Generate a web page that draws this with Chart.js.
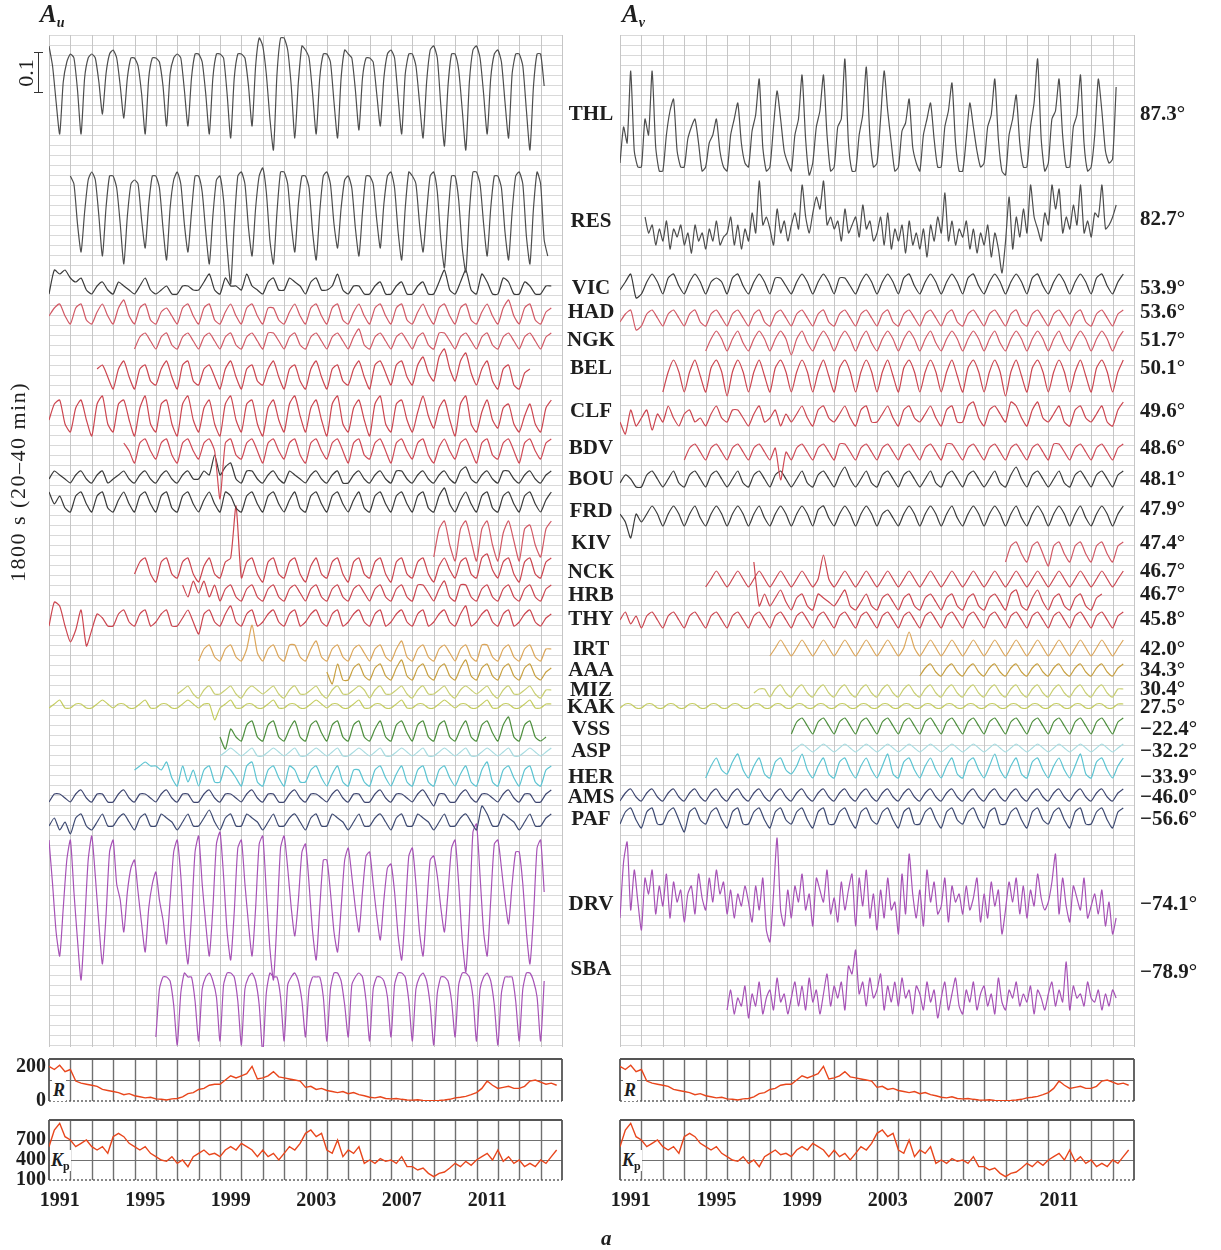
<!DOCTYPE html>
<html>
<head>
<meta charset="utf-8">
<title>A_u / A_v</title>
<script src="https://cdn.jsdelivr.net/npm/chart.js@4.4.1/dist/chart.umd.min.js"></script>
<style>
  body { margin: 0; background: #fff; }
  #page { position: relative; width: 1221px; height: 1250px; overflow: hidden; font-family: "Liberation Serif", serif; color: #1e1e1e; }
  canvas { position: absolute; }
  .lbl { position: absolute; white-space: nowrap; }
  .bar { position: absolute; background: #333; }
</style>
</head>
<body>
<div id="page">
  <canvas id="mainU" width="620" height="1050" style="left:0px;top:0px"></canvas>
  <canvas id="mainV" width="621" height="1050" style="left:600px;top:0px"></canvas>
  <canvas id="rU" width="575" height="56" style="left:0px;top:1050px"></canvas>
  <canvas id="kpU" width="575" height="100" style="left:0px;top:1110px"></canvas>
  <canvas id="rV" width="560" height="56" style="left:600px;top:1050px"></canvas>
  <canvas id="kpV" width="560" height="100" style="left:600px;top:1110px"></canvas>

  <div class="lbl" style="left:40px;top:0px;font:italic bold 25px 'Liberation Serif'">A<span style="font-size:14px;position:relative;top:5px">u</span></div>
  <div class="lbl" style="left:622px;top:0px;font:italic bold 25px 'Liberation Serif'">A<span style="font-size:14px;position:relative;top:5px">v</span></div>
  <div class="lbl" style="left:-112px;top:469px;width:260px;text-align:center;font-size:22px;letter-spacing:1.5px;transform:rotate(-90deg)">1800 s (20–40 min)</div>
  <div class="lbl" style="left:6px;top:60px;width:40px;text-align:center;font-size:22px;transform:rotate(-90deg)">0.1</div>
  <div class="bar" style="left:38px;top:52px;width:1px;height:41px"></div>
  <div class="bar" style="left:34px;top:52px;width:9px;height:1px"></div>
  <div class="bar" style="left:34px;top:92px;width:9px;height:1px"></div>
  <div class="lbl" style="left:52px;top:1080px;font:italic bold 18px 'Liberation Serif';background:#fff;padding:0 1px">R</div>
  <div class="lbl" style="left:623px;top:1080px;font:italic bold 18px 'Liberation Serif';background:#fff;padding:0 1px">R</div>
  <div class="lbl" style="left:50px;top:1150px;font:italic bold 18px 'Liberation Serif';background:#fff;padding:0 1px">K<span style="font-size:12px;font-style:normal;position:relative;top:4px">p</span></div>
  <div class="lbl" style="left:621px;top:1150px;font:italic bold 18px 'Liberation Serif';background:#fff;padding:0 1px">K<span style="font-size:12px;font-style:normal;position:relative;top:4px">p</span></div>
  <div class="lbl" style="left:601px;top:1226px;font:italic bold 21px 'Liberation Serif'">a</div>
</div>

<script>
// ---- categories / tick labels ----
const stationNames = ["THL","RES","VIC","HAD","NGK","BEL","CLF","BDV","BOU","FRD","KIV","NCK","HRB","THY","IRT","AAA","MIZ","KAK","VSS","ASP","HER","AMS","PAF","DRV","SBA"];
const latitudes = ["87.3°","82.7°","53.9°","53.6°","51.7°","50.1°","49.6°","48.6°","48.1°","47.9°","47.4°","46.7°","46.7°","45.8°","42.0°","34.3°","30.4°","27.5°","−22.4°","−32.2°","−33.9°","−46.0°","−56.6°","−74.1°","−78.9°"];
const yearTicks = [1991, 1995, 1999, 2003, 2007, 2011];
const rTicks = [0, 200];
const kpTicks = [100, 400, 700];

// first sample (year) and samples per year of each station series
const startU = [1991,1992,1991,1991,1995,1993.25,1991,1994.5,1991,1991,2009,1995,1997.25,1991,1998,2004,1997,1991,1999,1999,1995,1991,1991,1991,1996];
const startV = [1991,1992.17,1991,1991,1995,1993,1991,1994,1991,1991,2009,1995,1997.25,1991,1998,2005,1997.25,1991,1999,1999,1995,1991,1991,1991,1996];
const perYear = [6,6,4,4,4,4,4,4,4,4,4,4,4,4,4,4,4,4,4,4,4,4,4,6,6];

// ---- A_u series (units of 0.01) ----
const THL_u = [26,21,12,4,17,22, 24,23,15,4,18,23, 24,23,17,9,19,24, 25,23,16,8,18,23, 23,21,14,4,18,23, 23,22,16,6,19,23,
  24,23,15,6,18,24, 24,22,14,4,18,24, 24,23,14,3,18,24, 24,23,16,6,21,28, 26,19,8,0,19,28, 28,25,16,3,17,26,
  25,23,14,4,18,24, 24,22,12,3,18,25, 24,23,15,5,18,23, 23,22,14,6,18,24, 25,23,13,4,19,24, 24,21,12,3,17,25,
  26,23,11,1,16,24, 24,20,10,0,17,25, 26,23,14,4,18,24, 25,22,12,3,19,24, 24,21,10,0,16,24, 24,16];
const RES_u = [24,22,12,5,15,23, 25,23,14,4,16,24, 24,21,12,2,14,22, 23,22,13,6,17,24, 24,21,11,3,16,23, 25,22,12,5,15,24,
  24,20,10,2,14,23, 24,18,6,-3,12,24, 25,22,11,4,16,24, 26,20,8,2,15,25, 25,22,12,5,17,24, 24,21,10,3,15,24,
  25,22,12,6,16,23, 24,21,11,4,15,24, 24,22,13,6,17,24, 25,21,10,3,16,25, 24,22,12,5,15,24, 25,20,8,1,14,24,
  24,18,6,0,15,25, 25,22,12,4,16,24, 24,21,10,3,15,24, 25,22,9,2,16,25, 22,8,4];
const VIC_u = [1,7,6,7, 5,4,5,2, 1,3,4,2, 1,4,3,2, 1,3,5,2, 1,2,3,1, 1,3,3,2, 2,4,6,2, 1,5,3,3, 2,6,3,2, 1,4,5,2, 2,5,4,3,
  1,4,5,2, 2,3,6,2, 1,3,3,1, 1,3,4,1, 1,3,4,1, 1,3,4,1, 1,4,7,2, 1,4,7,2, 1,6,4,1, 1,5,4,1, 1,4,3,1, 1,3,3];
const HAD_u = [3,5,6,3, 1,5,6,2, 1,4,6,3, 1,5,7,3, 1,5,6,2, 1,4,5,3, 1,5,6,3, 1,5,6,2, 1,4,6,3, 1,5,6,3, 1,5,5,2, 1,4,6,3,
  1,5,6,3, 1,5,6,2, 1,4,6,3, 1,5,6,3, 1,5,6,2, 1,4,6,3, 1,5,6,3, 1,5,6,2, 1,4,6,3, 1,5,7,3, 1,5,6,2, 1,4,5];
const NGK_u = [1,4,5,3, 1,4,5,2, 1,4,5,3, 1,4,5,3, 1,4,5,2, 1,4,5,3, 1,5,5,3, 1,4,5,2, 1,4,5,3, 1,4,5,3,
  1,4,6,2, 1,4,5,3, 1,4,5,3, 1,4,5,2, 1,5,5,3, 1,4,5,3, 1,4,5,2, 1,4,5,3, 1,4,5,3, 1,4,5];
const BEL_u = [6,7,4, 1,6,8,4, 1,6,7,3, 2,6,8,4, 1,7,8,3, 2,6,7,4, 1,6,8,4, 1,6,7,3, 2,6,8,4, 1,6,7,3, 1,6,8,4,
  1,6,7,3, 2,6,8,4, 1,7,8,5, 2,7,8,4, 2,7,9,5, 3,9,11,6, 3,8,10,5, 2,6,8,3, 1,6,7,2, 1,5,6];
const CLF_u = [5,9,10,4, 2,8,10,5, 1,9,11,4, 2,9,10,5, 1,8,11,4, 2,9,10,4, 1,9,11,5, 2,8,10,4, 1,9,11,5, 2,9,10,4,
  1,8,10,5, 2,9,11,6, 2,8,10,5, 1,9,11,4, 2,8,10,5, 1,9,11,4, 2,9,10,5, 2,7,11,6, 3,8,10,5, 1,9,11,4,
  2,7,10,5, 3,8,9,4, 2,6,9,4, 2,8,10];
const BDV_u = [5,3, 0,5,6,3, 1,5,6,2, 0,5,6,3, 1,5,6,3, -9,5,6,2, 1,5,6,3, 0,5,6,3, 1,5,6,2, 0,5,6,3, 1,5,6,3,
  0,5,6,2, 1,5,6,3, 0,5,6,3, 1,5,6,2, 0,4,6,3, 1,5,6,3, 0,5,6,2, 1,5,6,3, 0,5,6,3, 1,5,6];
const BOU_u = [2,4,3,2, 1,3,4,2, 1,3,4,1, 2,3,4,2, 1,3,4,2, 1,3,4,2, 1,3,4,2, 2,4,3,8, 3,5,6,2, 1,4,4,2, 1,3,4,2, 1,4,3,2,
  1,3,4,2, 1,3,4,1, 1,3,4,2, 1,3,4,2, 1,4,4,2, 1,3,4,2, 1,3,4,2, 1,4,5,2, 1,3,4,2, 1,4,4,2, 1,3,4,2, 1,3,4];
const FRD_u = [6,3,5,2, 1,5,6,3, 1,5,6,2, 1,4,6,3, 1,5,6,3, 1,5,6,2, 1,5,6,3, 1,4,6,3, 1,6,5,2, 1,5,6,3, 1,5,6,3, 1,4,6,2,
  1,5,6,3, 1,5,6,3, 1,4,6,2, 1,5,6,3, 1,5,6,3, 1,5,6,2, 1,5,7,3, 1,4,6,3, 1,5,6,2, 1,5,6,3, 1,5,6,3, 1,4,6];
const KIV_u = [1,8,10,4, 0,8,10,5, 0,8,10,4, 0,7,10,5, 0,8,9,4, 1,8,10];
const NCK_u = [2,5,6,2, 0,5,6,2, 1,5,6,2, 0,4,6,2, 1,5,6,19, 1,5,6,2, 0,5,6,2, 1,5,6,2, 0,4,6,2, 1,5,6,2,
  0,5,6,2, 1,5,6,2, 0,5,6,2, 1,5,6,2, 0,4,6,3, 1,5,6,2, 1,6,7,3, 1,5,6,2, 0,5,6,2, 1,5,6];
const HRB_u = [5,2,6, 3,6,2,5, 1,4,5,2, 1,4,5,2, 1,4,5,2, 1,4,5,3, 1,4,5,2, 1,4,5,2, 1,4,5,3, 1,4,5,2, 1,4,5,2,
  1,5,5,3, 1,4,6,2, 1,5,5,2, 1,4,5,2, 1,4,5,2, 1,4,5,2, 1,4,5];
const THY_u = [4,10,9,4, 0,3,8,-1, 3,7,6,4, 4,7,8,5, 4,7,8,4, 5,7,8,4, 4,6,8,5, 2,7,8,5, 4,7,9,5, 4,7,8,4, 5,7,8,5, 4,7,8,4,
  5,7,8,5, 4,7,8,4, 5,7,8,5, 4,7,8,4, 5,7,8,5, 4,7,8,4, 5,7,8,5, 4,7,9,4, 5,7,8,5, 4,7,8,4, 5,7,8,5, 4,6,7];
const IRT_u = [1,4,5,2, 1,4,5,2, 1,4,10,3, 1,4,5,2, 1,5,5,2, 1,4,6,2, 1,4,5,2, 1,4,5,3, 1,4,5,2, 1,4,6,2,
  1,4,5,2, 1,4,5,3, 1,4,5,2, 1,5,5,2, 1,4,5,2, 1,4,5,2, 1,4,4];
const AAA_u = [3,0,5,1, 1,4,5,2, 1,4,5,2, 1,4,6,2, 1,4,5,2, 1,4,5,2, 1,4,6,2, 1,4,5,2, 1,4,5,2, 1,4,5,2, 1,3,4];
const MIZ_u = [1,2,3,1, 0,2,3,1, 1,2,3,1, 0,2,3,2, 1,2,3,1, 0,2,3,1, 1,2,3,1, 0,2,3,1, 1,2,3,2, 0,2,3,1,
  1,2,3,1, 0,2,3,1, 1,2,3,1, 0,2,3,2, 1,2,3,1, 0,2,3,1, 1,2,3,1, 0,2,2];
const KAK_u = [1,2,3,1, 1,2,2,1, 1,2,3,2, 1,2,2,1, 1,2,3,1, 1,2,2,1, 1,2,3,2, 1,2,2,-2, 1,2,3,1, 1,2,2,1, 1,2,3,1, 1,2,2,1,
  1,2,3,2, 1,2,2,1, 1,2,3,1, 1,2,2,1, 1,2,3,1, 1,2,2,1, 1,2,3,2, 1,2,2,1, 1,2,3,1, 1,2,2,1, 1,2,3,1, 1,2,2];
const VSS_u = [2,-1,4,2, 1,5,6,2, 1,5,6,2, 1,4,6,2, 1,5,6,3, 1,5,6,2, 1,5,6,2, 1,4,6,2, 1,5,6,3, 1,5,6,2,
  1,5,6,2, 1,4,6,2, 1,5,6,3, 1,5,7,2, 1,5,6,2, 1,2];
const ASP_u = [1,2,3,2, 1,2,3,1, 1,2,3,2, 1,2,3,1, 1,2,3,2, 1,2,3,1, 1,2,3,2, 1,2,3,1, 1,2,3,2, 1,2,3,1,
  1,2,3,2, 1,2,3,1, 1,2,3,2, 1,2,3,1, 1,2,3,2, 1,2,3];
const HER_u = [5,6,7,6, 6,5,7,3, 1,6,2,5, 1,5,6,2, 2,6,5,3, 1,6,7,2, 1,5,6,3, 1,6,5,2, 2,5,6,3, 1,4,6,2,
  1,5,5,2, 1,5,6,3, 1,4,6,2, 1,5,6,2, 1,5,6,3, 1,4,6,2, 1,5,7,2, 1,5,6,3, 1,5,6,2, 1,5,6];
const AMS_u = [1,3,3,2, 1,3,4,2, 1,3,3,1, 1,3,4,2, 1,3,3,2, 1,3,4,2, 1,3,3,1, 1,3,4,2, 1,3,3,2, 1,3,4,2, 1,3,3,1, 1,3,4,2,
  1,3,3,2, 1,3,4,2, 1,3,3,1, 1,3,4,2, 1,3,3,2, 1,3,4,2, 0,3,3,1, 1,3,4,2, 1,3,3,2, 1,3,4,2, 1,3,3,1, 1,3,4];
const PAF_u = [2,4,1,3, 0,4,5,2, 1,3,5,2, 2,4,5,3, 1,4,5,2, 2,5,4,3, 1,3,5,2, 2,4,6,3, 1,4,5,2, 2,5,4,3, 1,3,5,2, 2,4,5,3,
  1,4,5,2, 2,5,4,3, 1,3,5,2, 2,4,5,3, 1,4,5,2, 2,5,4,3, 1,3,5,2, 2,4,5,3, 1,7,5,2, 2,5,4,3, 1,3,5,2, 2,4,5];
const DRV_u = [35,24,12,6,18,30, 35,22,10,0,14,30, 36,26,14,4,16,32, 35,24,20,12,22,28, 30,22,14,7,18,24, 27,20,15,9,20,32,
  35,26,12,4,16,32, 36,24,14,6,18,34, 37,26,12,5,17,33, 35,24,14,6,18,34, 36,22,8,0,15,33, 36,28,18,11,20,32,
  34,24,12,5,18,30, 30,22,12,7,18,30, 33,26,18,12,22,31, 32,24,16,10,20,28, 29,22,11,5,17,31, 33,24,12,6,18,30,
  31,26,18,12,22,33, 35,24,10,2,16,37, 39,26,12,6,20,34, 35,28,20,14,24,32, 32,24,12,4,16,33, 35,22];
const SBA_u = [2,14,17,17,16,10, 0,13,18,17,17,11, 1,14,17,18,16,12, 1,15,18,18,17,11, 0,14,17,18,16,10, -2,13,18,17,17,12,
  1,15,17,18,16,11, 2,14,17,17,17,12, 1,14,18,18,16,10, 2,15,17,18,17,11, 1,14,17,17,16,12, 2,15,18,18,17,11,
  1,14,17,18,16,10, 0,13,17,17,16,11, 2,15,18,18,17,12, 1,14,17,18,16,10, 0,13,17,17,17,11, 1,14,18,18,16,12, 1,16];

// ---- A_v series (units of 0.01) ----
const THL_v = [3,12,8,26,6,2, 2,14,10,26,7,1, 1,10,16,19,6,2, 2,9,12,14,8,1, 2,8,10,14,6,2, 1,10,14,18,8,3,
  2,11,15,24,7,1, 2,12,21,14,6,3, 1,10,14,25,9,0, 3,12,16,25,10,1, 2,12,14,29,8,1, 1,10,15,27,10,2,
  3,14,26,16,8,1, 2,11,13,19,7,3, 1,10,14,18,9,2, 2,12,16,23,8,1, 1,9,18,12,6,2, 3,12,15,24,9,1,
  0,10,14,20,8,2, 2,12,18,29,9,1, 3,14,16,24,10,2, 2,12,15,25,8,1, 2,10,24,16,6,3, 4,22];
const RES_v = [12,8,10,5,9, 6,11,4,9,7,10, 5,8,3,10,6,8, 4,9,6,11,5,7, 8,12,5,10,4,9, 6,13,8,21,10,12,
  9,5,14,8,11,6, 10,13,9,20,12,8, 13,17,14,21,10,12, 9,11,6,14,8,10, 12,7,15,9,11,6, 8,12,5,13,4,9,
  6,10,3,11,5,8, 4,9,2,10,6,12, 8,18,6,11,5,9, 7,11,4,9,3,8, 5,10,2,8,4,-2, 6,17,4,12,7,14,
  8,20,12,9,6,13, 10,20,14,19,8,12, 9,15,10,20,8,11, 7,13,12,20,9,10, 12,15];
const VIC_v = [2,4,6,0, 1,4,6,4, 1,5,6,3, 1,4,6,4, 1,4,5,4, 1,5,6,3, 1,4,6,4, 1,5,5,3, 1,4,6,4, 1,4,6,4, 1,5,5,3, 1,4,6,4,
  1,4,6,4, 1,5,6,3, 1,4,6,4, 1,4,6,4, 1,5,6,3, 1,4,6,4, 1,4,6,4, 1,5,6,3, 1,4,6,4, 1,4,6,4, 1,5,6,3, 1,4,6];
const HAD_v = [2,4,5,0, 1,4,5,3, 1,4,5,3, 1,4,5,2, 1,4,5,3, 1,4,5,3, 1,4,5,2, 1,4,5,3, 1,4,5,3, 1,4,5,2, 1,4,5,3, 1,4,5,3,
  1,4,5,2, 1,4,5,3, 1,4,5,3, 1,4,5,2, 1,4,5,3, 1,4,5,3, 1,4,5,2, 1,4,5,3, 1,4,5,3, 1,4,5,2, 1,4,5,3, 1,4,5];
const NGK_v = [1,4,6,4, 1,4,6,3, 1,4,6,4, 1,4,6,4, 0,4,6,3, 1,4,6,4, 1,4,6,4, 1,4,6,3, 1,4,6,4, 1,4,6,4,
  1,4,6,3, 1,4,6,4, 1,4,6,4, 1,4,6,3, 1,4,6,4, 1,4,6,4, 1,4,6,3, 1,4,6,4, 1,4,6,4, 1,4,6];
const BEL_v = [1,6,9,6, 1,6,9,5, 1,7,9,6, 0,6,9,6, 1,6,9,5, 1,7,9,6, 1,6,9,6, 1,6,9,5, 1,7,9,6, 1,6,9,6, 1,6,9,5,
  1,7,9,6, 1,6,9,6, 1,6,9,5, 1,7,9,6, 1,6,9,6, 0,6,9,5, 1,7,9,6, 1,6,9,6, 1,6,9,5, 1,7,9,6, 1,6,9];
const CLF_v = [4,1,7,3, 5,7,2,6, 4,8,5,3, 6,7,4,5, 3,6,8,5, 4,7,7,5, 3,6,8,4, 5,7,3,6, 4,6,8,5, 3,7,8,5, 4,6,8,5, 3,7,8,4,
  4,6,8,5, 3,7,8,5, 4,6,8,5, 3,7,8,4, 4,8,9,5, 3,7,8,6, 4,9,8,5, 3,7,9,5, 4,6,8,4, 3,7,8,5, 4,6,8,4, 3,7,9];
const BDV_v = [1,4,5,3, 1,4,5,3, 1,4,5,3, 1,4,5,3, 1,4,-4,3, 1,4,5,3, 1,4,5,3, 1,5,5,3, 1,4,5,3, 1,4,5,3,
  1,4,5,3, 1,4,5,3, 1,5,5,3, 1,4,5,3, 1,4,5,3, 1,4,5,3, 1,4,5,3, 1,5,5,3, 1,4,5,3, 1,4,5,3, 1,4,5];
const BOU_v = [2,4,3,1, 1,4,5,3, 1,3,5,2, 1,4,5,3, 1,4,5,3, 1,3,5,2, 1,4,5,3, 1,4,5,3, 1,3,5,2, 1,4,5,3, 1,4,6,3, 1,3,5,2,
  1,4,5,3, 1,4,5,3, 1,3,5,2, 1,4,5,3, 1,4,5,3, 1,3,5,2, 1,4,6,3, 1,4,5,3, 1,3,5,2, 1,4,5,3, 1,4,5,3, 1,4,5];
const FRD_v = [4,2,-2,4, 2,4,6,4, 1,4,6,4, 1,4,6,3, 1,4,6,4, 1,4,6,4, 1,4,6,3, 1,4,6,4, 1,4,6,4, 1,5,6,3, 1,4,6,4, 1,4,6,4,
  1,4,5,3, 1,4,6,4, 1,4,6,4, 1,4,6,3, 1,4,6,4, 1,4,6,4, 1,4,6,3, 1,4,6,4, 1,4,6,4, 1,4,6,3, 1,4,6,4, 1,4,6];
const KIV_v = [1,5,6,3, 1,5,6,3, 0,5,6,3, 1,5,6,3, 1,5,6,3, 1,5,6];
const NCK_v = [1,3,5,3, 1,3,5,3, 1,3,5,3, 1,3,5,3, 1,3,5,3, 1,3,9,3, 1,3,5,3, 1,3,5,3, 1,3,5,3, 1,3,5,3,
  1,3,5,3, 1,3,5,3, 1,3,5,3, 1,3,5,3, 1,3,5,3, 1,3,5,3, 1,3,5,3, 1,3,5,3, 1,3,5,3, 1,3,5];
const HRB_v = [13,2,5, 2,4,6,3, 1,4,5,2, 1,5,4,3, 2,4,6,2, 1,3,5,2, 1,4,5,3, 1,4,5,2, 1,4,5,3, 1,4,5,2, 1,4,5,2,
  1,4,5,3, 1,5,6,2, 1,4,6,3, 1,4,5,2, 1,4,5,2, 1,4,5];
const THY_v = [3,5,2,4, 1,4,5,3, 1,4,5,3, 1,4,5,3, 1,4,5,3, 1,4,5,3, 1,4,5,3, 1,4,5,3, 1,4,5,3, 1,4,5,3, 1,4,5,3, 1,4,5,3,
  1,4,5,3, 1,4,5,3, 1,4,5,3, 1,4,5,3, 1,4,5,3, 1,4,5,3, 1,4,5,3, 1,4,5,3, 1,4,5,3, 1,4,5,3, 1,4,5,3, 1,4,5];
const IRT_v = [1,3,5,3, 1,3,5,3, 1,3,5,3, 1,3,5,3, 1,3,5,3, 1,3,5,3, 1,3,7,3, 1,3,5,3, 1,3,5,3, 1,3,5,3,
  1,3,5,3, 1,3,5,3, 1,3,5,3, 1,3,5,3, 1,3,5,3, 1,3,5,3, 1,3,5];
const AAA_v = [1,3,4,2, 1,3,4,2, 1,3,4,2, 1,3,4,2, 1,3,4,2, 1,3,4,2, 1,3,4,2, 1,3,4,2, 1,3,4,2, 1,3,4];
const MIZ_v = [1,2,2, 0,2,3,1, 0,2,3,1, 0,2,3,1, 0,2,3,1, 0,2,3,1, 0,2,3,1, 0,2,3,1, 0,2,3,1, 0,2,3,1,
  0,2,3,1, 0,2,3,1, 0,2,3,1, 0,2,3,1, 0,2,3,1, 0,2,3,1, 0,2,3,1, 0,2,2];
const KAK_v = [1,2,2,1, 1,2,2,1, 1,2,2,1, 1,2,2,1, 1,2,2,1, 1,2,2,1, 1,2,2,1, 1,2,2,1, 1,2,2,1, 1,2,2,1, 1,2,2,1, 1,2,2,1,
  1,2,2,1, 1,2,2,1, 1,2,2,1, 1,2,2,1, 1,2,2,1, 1,2,2,1, 1,2,2,1, 1,2,2,1, 1,2,2,1, 1,2,2,1, 1,2,2,1, 1,2,2];
const VSS_v = [1,4,5,3, 1,4,5,3, 1,4,5,3, 1,4,5,3, 1,4,5,3, 1,4,5,3, 1,4,5,3, 1,4,5,3, 1,4,5,3, 1,4,5,3,
  1,4,5,3, 1,4,5,3, 1,4,5,3, 1,4,5,3, 1,4,5,3, 1,4,5];
const ASP_v = [0,1,2,1, 0,1,2,1, 0,1,2,1, 0,1,2,1, 0,1,2,1, 0,1,2,1, 0,1,2,1, 0,1,2,1, 0,1,2,1, 0,1,2,1,
  0,1,2,1, 0,1,2,1, 0,1,2,1, 0,1,2,1, 0,1,2,1, 0,1,2];
const HER_v = [1,4,6,3, 2,5,7,3, 1,4,6,2, 1,5,6,3, 2,4,7,3, 1,4,6,2, 1,5,6,3, 1,4,6,3, 1,4,7,2, 1,5,6,3,
  1,4,6,3, 1,4,6,2, 1,5,6,3, 1,4,7,3, 1,4,6,2, 1,5,6,3, 1,4,6,3, 1,4,7,2, 1,5,6,3, 1,4,6];
const AMS_v = [1,3,4,2, 1,3,4,2, 1,3,4,2, 1,3,4,2, 1,3,4,2, 1,3,4,2, 1,3,4,2, 1,3,4,2, 1,3,4,2, 1,3,4,2, 1,3,4,2, 1,3,4,2,
  1,3,4,2, 1,3,4,2, 1,3,4,2, 1,3,4,2, 1,3,4,2, 1,3,4,2, 1,3,4,2, 1,3,4,2, 1,3,4,2, 1,3,4,2, 1,3,4,2, 1,3,4];
const PAF_v = [2,5,6,3, 1,5,6,2, 2,5,6,3, 0,5,6,3, 2,5,6,3, 1,5,6,2, 2,5,6,3, 1,5,6,3, 2,5,6,3, 1,5,6,2, 2,5,6,3, 1,5,6,3,
  2,5,6,3, 1,5,6,2, 2,5,6,3, 1,5,6,3, 2,5,6,3, 1,5,6,2, 2,5,6,3, 1,5,6,3, 2,5,6,3, 1,5,6,2, 2,5,6,3, 1,5,6];
const DRV_v = [8,22,27,10,20,12, 5,18,14,20,9,16, 11,19,8,17,12,15, 7,14,16,9,19,13, 10,18,12,20,14,17, 9,15,8,14,11,16,
  12,7,16,10,18,5, 2,14,28,10,6,15, 8,16,12,19,10,14, 6,18,15,12,20,9, 13,7,17,10,15,19, 6,18,11,20,8,14,
  5,15,8,18,10,12, 4,19,9,24,14,8, 15,6,20,12,17,9, 11,18,7,16,12,14, 9,16,10,13,18,7, 14,8,17,11,15,4,
  10,17,12,18,9,16, 8,15,11,19,13,10, 12,17,24,9,18,11, 7,16,13,10,18,8, 11,14,9,15,6,12, 4,8];
const SBA_v = [5,10,4,8,6,11, 3,9,6,12,4,8, 10,5,13,7,9,4, 8,12,6,11,5,13, 7,10,4,9,14,6, 11,8,12,5,16,14,
  20,9,12,6,13,8, 10,14,5,11,7,12, 6,13,8,10,4,11, 9,5,12,7,10,3, 8,12,5,9,13,6, 4,10,7,12,5,9,
  11,6,9,4,13,7, 5,10,8,12,6,9, 7,11,4,10,8,5, 9,12,6,10,7,17, 5,11,8,9,6,12, 8,7,10,5,9,6, 10,8];

// ---- geophysical indices (quarterly from 1991) ----
const sunspotR = [165,150,170,140, 150,95,85,80, 75,70,55,50, 45,40,30,35, 25,20,15,18, 10,8,5,10, 12,20,35,40, 55,60,75,80,
  80,100,120,110, 120,130,165,105, 110,120,140,115, 110,105,100,95, 65,70,55,60, 50,45,40,45, 35,40,30,25, 18,15,20,12,
  10,12,8,5, 4,6,3,2, 2,3,5,8, 15,18,22,30, 40,60,95,75, 60,65,70,60, 60,70,95,100, 90,80,85,75];
const kpSum = [600,850,950,750, 700,600,650,700, 600,550,600,500, 750,800,750,650, 600,550,600,500, 450,400,380,450,
  350,400,300,450, 500,550,480,500, 450,550,600,550, 650,600,550,450, 550,450,500,400, 500,600,550,650,
  800,850,750,800, 550,500,700,450, 550,500,600,350, 400,350,420,380, 400,350,450,300, 300,250,280,200,
  150,200,220,280, 350,300,380,320, 400,450,500,400, 550,380,450,350, 400,300,350,300, 400,350,450,550];

const seriesU = [THL_u,RES_u,VIC_u,HAD_u,NGK_u,BEL_u,CLF_u,BDV_u,BOU_u,FRD_u,KIV_u,NCK_u,HRB_u,THY_u,IRT_u,AAA_u,MIZ_u,KAK_u,VSS_u,ASP_u,HER_u,AMS_u,PAF_u,DRV_u,SBA_u];
const seriesV = [THL_v,RES_v,VIC_v,HAD_v,NGK_v,BEL_v,CLF_v,BDV_v,BOU_v,FRD_v,KIV_v,NCK_v,HRB_v,THY_v,IRT_v,AAA_v,MIZ_v,KAK_v,VSS_v,ASP_v,HER_v,AMS_v,PAF_v,DRV_v,SBA_v];

// ---- layout (page pixels) ----
const PLOT_TOP = 35, PLOT_BOTTOM = 1047, PX_PER_UNIT = 4;
const Y_MAX = (PLOT_BOTTOM - PLOT_TOP) / PX_PER_UNIT;
const baseU = [150,272,298,328,353,393,440,463,487,516,561,582,605,642,665,684,698,712,745,760,790,806,834,980,1045];
const baseV = [175,265,298,330,355,396,438,464,491,530,566,591,614,632,660,680,697,712,738,752,782,805,832,950,1030];
const labelY = [115,222,289,313,341,369,412,449,480,512,544,573,596,620,650,671,691,708,730,752,778,798,820,905,970];
const latY = [115,220,289,313,341,369,412,449,480,510,544,572,595,620,650,671,690,708,730,752,778,798,820,905,973];
const colors = ["#4d4d4d","#4d4d4d","#3a3a3a","#d25a66","#d25a66","#cc4650","#cc4650","#d04a56","#3a3a3a","#3a3a3a","#d25a66","#cc4650",
  "#cc4650","#cc4650","#dca65a","#c8a040","#c9cf72","#c4cc5e","#4e8f3e","#a6dbe0","#5cc4d2","#3e4670","#3e4a72","#a652b6","#a652b6"];
const SERIF = "'Liberation Serif', serif";

Chart.defaults.font.family = SERIF;

function toPoints(vals, start, per, basePx) {
  const base = (PLOT_BOTTOM - basePx) / PX_PER_UNIT;
  return vals.map((v, i) => ({ x: start + i / per, y: base + v }));
}

function line(ctx, x1, y1, x2, y2) {
  ctx.beginPath(); ctx.moveTo(x1, y1); ctx.lineTo(x2, y2); ctx.stroke();
}

// light year/level grid behind the station traces
const mainGrid = {
  id: "mainGrid",
  beforeDatasetsDraw(chart) {
    const { ctx, chartArea: a, scales: { x, y } } = chart;
    ctx.save();
    ctx.lineWidth = 1;
    ctx.strokeStyle = "#d9d9d9";
    for (let v = y.max; v >= y.min - 0.01; v -= 2.5) {
      const py = Math.round(y.getPixelForValue(v)) + 0.5;
      line(ctx, a.left, py, a.right, py);
    }
    ctx.strokeStyle = "#c6c6c6";
    for (let yr = 1991; yr <= 2015; yr++) {
      const px = Math.round(x.getPixelForValue(yr)) + 0.5;
      line(ctx, px, a.top, px, a.bottom);
    }
    ctx.restore();
  }
};

// station names (left chart) and latitudes (right chart)
const sideLabels = {
  id: "sideLabels",
  afterDraw(chart, args, opts) {
    const { ctx, chartArea: a } = chart;
    ctx.save();
    ctx.fillStyle = "#1e1e1e";
    ctx.font = "bold 21px " + SERIF;
    ctx.textBaseline = "middle";
    if (opts.kind === "names") {
      ctx.textAlign = "center";
      stationNames.forEach((n, i) => ctx.fillText(n, a.right + 29, labelY[i]));
    } else {
      ctx.textAlign = "left";
      latitudes.forEach((t, i) => ctx.fillText(t, a.right + 6, latY[i]));
    }
    ctx.restore();
  }
};

// framed grid of the R and Kp panels, plus their value labels
const boxGrid = {
  id: "boxGrid",
  beforeDatasetsDraw(chart, args, opts) {
    const { ctx, chartArea: a, scales: { x, y } } = chart;
    ctx.save();
    ctx.strokeStyle = "#707070";
    ctx.lineWidth = 1.4;
    for (let yr = 1992; yr < 2015; yr++) {
      const px = Math.round(x.getPixelForValue(yr)) + 0.5;
      line(ctx, px, a.top, px, a.bottom);
    }
    ctx.lineWidth = 1.2;
    (opts.levels || []).forEach(v => {
      const py = Math.round(y.getPixelForValue(v)) + 0.5;
      line(ctx, a.left, py, a.right, py);
    });
    ctx.strokeStyle = "#555";
    ctx.lineWidth = 1.8;
    line(ctx, a.left, a.top, a.right, a.top);
    line(ctx, a.left, a.top, a.left, a.bottom);
    line(ctx, a.right, a.top, a.right, a.bottom);
    ctx.setLineDash([2, 2]);
    ctx.lineWidth = 1.4;
    line(ctx, a.left, a.bottom, a.right, a.bottom);
    ctx.restore();
  },
  afterDraw(chart, args, opts) {
    if (!opts.ticks) return;
    const { ctx, chartArea: a, scales: { y } } = chart;
    ctx.save();
    ctx.fillStyle = "#1e1e1e";
    ctx.font = "bold 20px " + SERIF;
    ctx.textAlign = "right";
    ctx.textBaseline = "middle";
    opts.ticks.forEach(v => {
      const py = Math.max(y.getPixelForValue(v), a.top + 8);
      ctx.fillText(String(v), a.left - 3, py);
    });
    ctx.restore();
  }
};

function mainChart(id, series, starts, bases, padding, kind) {
  const datasets = series.map((vals, i) => ({
    data: toPoints(vals, starts[i], perYear[i], bases[i]),
    borderColor: colors[i],
    borderWidth: 1.2,
    pointRadius: 0,
    tension: 0.2,
    fill: false
  }));
  return new Chart(document.getElementById(id), {
    type: "line",
    data: { datasets },
    options: {
      responsive: false, animation: false, devicePixelRatio: 1, events: [],
      layout: { padding },
      plugins: { legend: { display: false }, tooltip: { enabled: false }, sideLabels: { kind } },
      scales: {
        x: { type: "linear", min: 1991, max: 2015, display: false },
        y: { min: 0, max: Y_MAX, display: false }
      }
    },
    plugins: [mainGrid, sideLabels]
  });
}

const tickFont = { family: SERIF, weight: "bold", size: 20 };

function indexChart(id, values, yMin, yMax, ticks, levels, withX, padding) {
  const pts = values.map((v, i) => ({ x: 1991 + i / 4, y: v }));
  return new Chart(document.getElementById(id), {
    type: "line",
    data: { datasets: [{ data: pts, borderColor: "#e8461c", borderWidth: 1.4, pointRadius: 0, tension: 0 }] },
    options: {
      responsive: false, animation: false, devicePixelRatio: 1, events: [],
      layout: { padding },
      plugins: { legend: { display: false }, tooltip: { enabled: false }, boxGrid: { levels, ticks } },
      scales: {
        x: {
          type: "linear", min: 1991, max: 2015, display: withX,
          afterBuildTicks: s => { s.ticks = yearTicks.map(v => ({ value: v + 0.5 })); },
          afterFit: s => { s.height = withX ? 30 : 0; },
          grid: { display: false }, border: { display: false },
          ticks: { callback: v => String(Math.floor(v)), autoSkip: false, maxRotation: 0, font: tickFont, color: "#1e1e1e", padding: 1 }
        },
        y: { min: yMin, max: yMax, display: false }
      }
    },
    plugins: [boxGrid]
  });
}

mainChart("mainU", seriesU, startU, baseU, { left: 49, right: 58, top: PLOT_TOP, bottom: 3 }, "names");
mainChart("mainV", seriesV, startV, baseV, { left: 20, right: 87, top: PLOT_TOP, bottom: 3 }, "lats");

indexChart("rU", sunspotR, 0, 200, rTicks, [100], false, { left: 49, right: 13, top: 9, bottom: 5 });
indexChart("kpU", kpSum, 100, 1000, kpTicks, [400, 700], true, { left: 49, right: 13, top: 10, bottom: 0 });
indexChart("rV", sunspotR, 0, 200, null, [100], false, { left: 20, right: 26, top: 9, bottom: 5 });
indexChart("kpV", kpSum, 100, 1000, null, [400, 700], true, { left: 20, right: 26, top: 10, bottom: 0 });
</script>
</body>
</html>
